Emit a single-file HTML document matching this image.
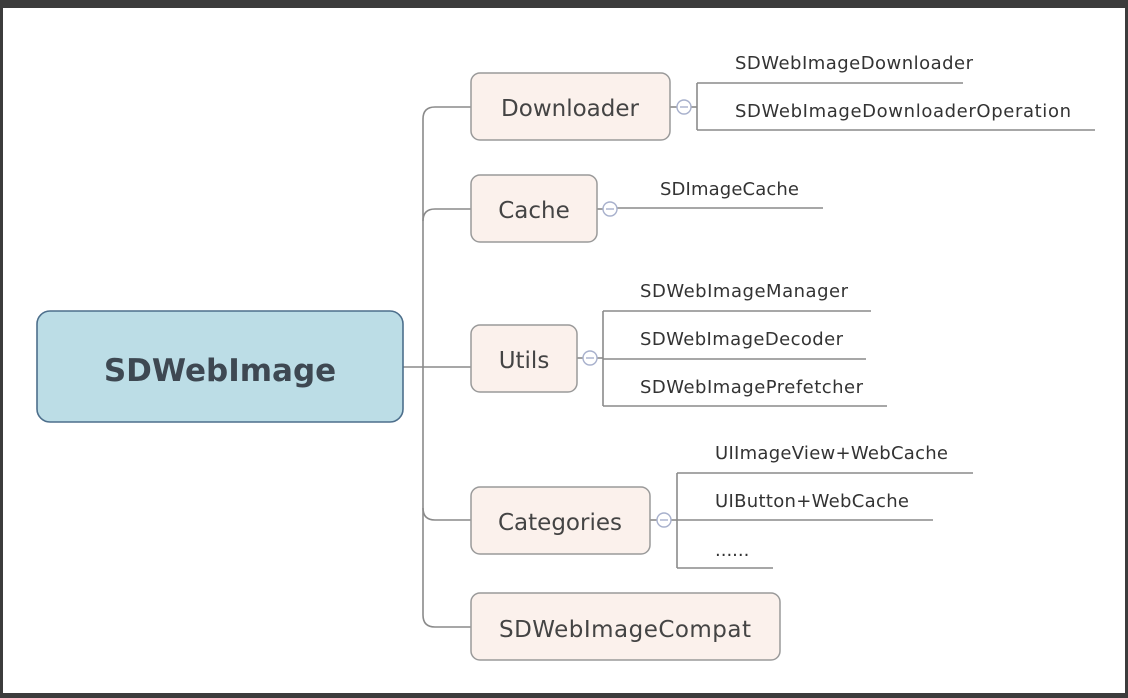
<!DOCTYPE html>
<html><head><meta charset="utf-8"><style>
html,body{margin:0;padding:0;background:#3c3c3c;}
svg{display:block;}
text{font-family:"DejaVu Sans","Liberation Sans",sans-serif;}
</style></head><body>
<svg width="1128" height="698" viewBox="0 0 1128 698" xmlns="http://www.w3.org/2000/svg">
<rect x="0" y="0" width="1128" height="698" fill="#3c3c3c"/>
<rect x="3" y="8" width="1122" height="685" fill="#ffffff"/>
<g fill="none" stroke="#8a8a8a" stroke-width="1.6">
<path d="M403 367 H423"/>
<path d="M471 107 H435 Q423 107 423 119 V615 Q423 627 435 627 H471"/>
<path d="M423 221 Q423 209 435 209 H471"/>
<path d="M423 367 H471"/>
<path d="M423 508 Q423 520 435 520 H471"/>
<path d="M670 107 H677"/><path d="M597 209 H603"/><path d="M577 358 H583"/><path d="M650 520 H657"/>
<path d="M691 107 H697"/><path d="M697 83 V130"/><path d="M697 83 H963"/><path d="M697 130 H1095"/>
<path d="M617 208 H823"/>
<path d="M597 358 H603"/><path d="M603 311 V406"/><path d="M603 311 H871"/><path d="M603 359 H866"/><path d="M603 406 H887"/>
<path d="M671 520 H677"/><path d="M677 473 V568"/><path d="M677 473 H973"/><path d="M677 520 H933"/><path d="M677 568 H773"/>
</g>
<rect x="37" y="311" width="366" height="111" rx="13" fill="#bcdde6" stroke="#4d6f8c" stroke-width="1.6"/>
<text x="220" y="381" text-anchor="middle" font-size="31" font-weight="bold" fill="#3e4852">SDWebImage</text>
<g fill="#fbf1ec" stroke="#9a9a9a" stroke-width="1.5">
<rect x="471" y="73" width="199" height="67" rx="9"/>
<rect x="471" y="175" width="126" height="67" rx="9"/>
<rect x="471" y="325" width="106" height="67" rx="9"/>
<rect x="471" y="487" width="179" height="67" rx="9"/>
<rect x="471" y="593" width="309" height="67" rx="9"/>
</g>
<g font-size="23" fill="#444" text-anchor="middle">
<text x="570" y="116">Downloader</text>
<text x="534" y="218">Cache</text>
<text x="524" y="368">Utils</text>
<text x="560" y="530">Categories</text>
<text x="625" y="637" textLength="252">SDWebImageCompat</text>
</g>
<g fill="#fff" stroke="#a7b0cc" stroke-width="1.4">
<circle cx="684" cy="107" r="7"/><circle cx="610" cy="209" r="7"/><circle cx="590" cy="358" r="7"/><circle cx="664" cy="520" r="7"/>
</g>
<g stroke="#a7b0cc" stroke-width="1.4">
<path d="M680 107 H688"/><path d="M606 209 H614"/><path d="M586 358 H594"/><path d="M660 520 H668"/>
</g>
<g font-size="18" fill="#333">
<text x="735" y="69" textLength="238">SDWebImageDownloader</text>
<text x="735" y="117" textLength="336">SDWebImageDownloaderOperation</text>
<text x="660" y="195" textLength="139">SDImageCache</text>
<text x="640" y="297" textLength="208">SDWebImageManager</text>
<text x="640" y="345" textLength="203">SDWebImageDecoder</text>
<text x="640" y="393" textLength="223">SDWebImagePrefetcher</text>
<text x="715" y="459" textLength="233">UIImageView+WebCache</text>
<text x="715" y="507" textLength="194">UIButton+WebCache</text>
<text x="715" y="556">......</text>
</g>
</svg>
</body></html>
